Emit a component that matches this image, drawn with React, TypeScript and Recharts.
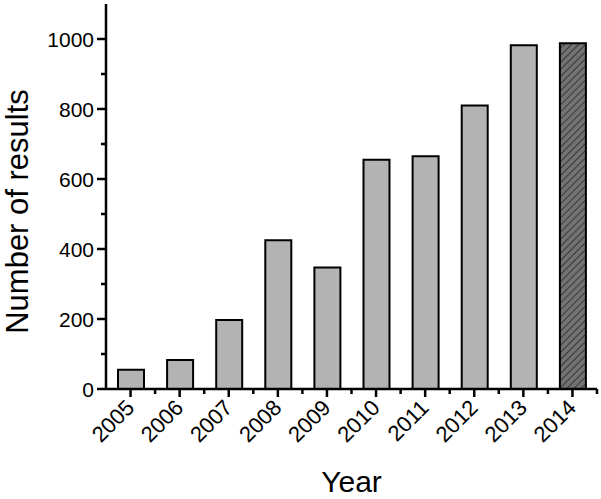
import { Bar, BarChart, Cell, XAxis, YAxis } from "recharts";

const years = ["2005", "2006", "2007", "2008", "2009", "2010", "2011", "2012", "2013", "2014"];
const results = [55, 83, 197, 425, 347, 655, 665, 810, 982, 988];
const yTicks = [0, 100, 200, 300, 400, 500, 600, 700, 800, 900, 1000];
const hatchedYear = "2014";

const data = years.map((year, i) => ({ year, count: results[i] }));

const W = 601;
const H = 499;
const margin = { top: 4, right: 4, left: 0, bottom: 0 };
const yAxisWidth = 106;
const xAxisHeight = 110;
const font = "'Liberation Sans', Arial, sans-serif";
const step = (W - margin.left - margin.right - yAxisWidth) / years.length;

const YTick = ({ x, y, payload }: any) => {
  const major = payload.value % 200 === 0;
  return (
    <g>
      <line x1={x - (major ? 9 : 5)} x2={x} y1={y} y2={y} stroke="#000" strokeWidth={2.5} />
      {major && (
        <text x={x - 12} y={y} dy="0.36em" textAnchor="end" fontSize={21} fontFamily={font} fill="#000">
          {payload.value}
        </text>
      )}
    </g>
  );
};

const XTick = ({ x, y, payload }: any) => {
  const tx = x + 5;
  const ty = y + 20;
  return (
    <g>
      <line x1={x} x2={x} y1={y} y2={y + 8} stroke="#000" strokeWidth={2.5} />
      <line x1={x + step / 2} x2={x + step / 2} y1={y} y2={y + 5} stroke="#000" strokeWidth={2.5} />
      <text
        x={tx}
        y={ty}
        textAnchor="end"
        fontSize={22}
        fontFamily={font}
        fill="#000"
        transform={`rotate(-45, ${tx}, ${ty})`}
      >
        {payload.value}
      </text>
    </g>
  );
};

export default function App() {
  return (
    <div style={{ position: "absolute", left: 0, top: 0, width: W, height: H, background: "#fff" }}>
      <svg width={0} height={0} style={{ position: "absolute" }}>
        <defs>
          <pattern id="hatch" width={5} height={5} patternUnits="userSpaceOnUse" patternTransform="rotate(45)">
            <rect width={5} height={5} fill="#737373" />
            <line x1={0} y1={0} x2={0} y2={5} stroke="#383838" strokeWidth={2} />
          </pattern>
        </defs>
      </svg>
      <BarChart width={W} height={H} data={data} margin={margin} barSize={26}>
        <XAxis
          dataKey="year"
          height={xAxisHeight}
          tickSize={0}
          tickMargin={0}
          tickLine={false}
          axisLine={{ stroke: "#000", strokeWidth: 2.5 }}
          tick={<XTick />}
          interval={0}
          label={{
            value: "Year",
            position: "insideBottom",
            offset: 7,
            style: { fontSize: 30, fontFamily: font, fill: "#000" },
          }}
        />
        <YAxis
          width={yAxisWidth}
          domain={[0, 1100]}
          ticks={yTicks}
          interval={0}
          tickSize={0}
          tickMargin={0}
          tickLine={false}
          axisLine={{ stroke: "#000", strokeWidth: 2.5 }}
          tick={<YTick />}
          label={{
            value: "Number of results",
            angle: -90,
            position: "insideLeft",
            offset: 17,
            dy: 15,
            style: { fontSize: 31, fontFamily: font, fill: "#000", textAnchor: "middle" },
          }}
        />
        <Bar dataKey="count" stroke="#000" strokeWidth={2} isAnimationActive={false}>
          {data.map((d) => (
            <Cell key={d.year} fill={d.year === hatchedYear ? "url(#hatch)" : "#b3b3b3"} />
          ))}
        </Bar>
      </BarChart>
    </div>
  );
}
